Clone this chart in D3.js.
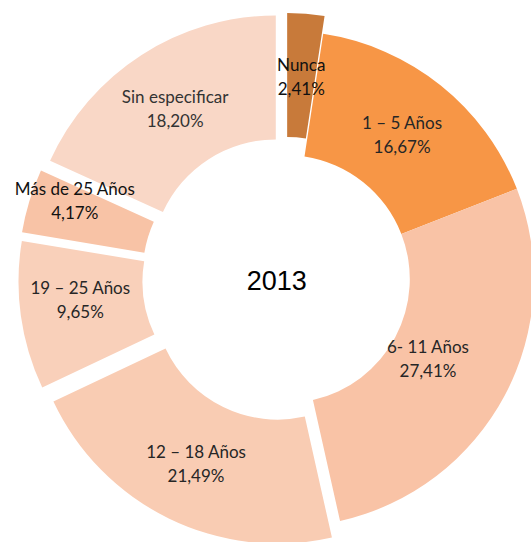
<!DOCTYPE html>
<html lang="es">
  <head>
    <meta charset="utf-8">
    <title>2013</title>
    <script src="https://cdnjs.cloudflare.com/ajax/libs/d3/7.8.5/d3.min.js"></script>
    <style>
      body { margin: 0; background: #fff; }
      .lbl { font-family: Lato, "Open Sans", sans-serif; font-size: 17px; }
      .title { font-family: "Liberation Sans", Arial, sans-serif; font-size: 27px; }
    </style>
  </head>
  <body>
    <div id="chartDiv"></div>
    <script>
      // data
      var categories = ["Nunca", "1 \u2013 5 Años", "6- 11 Años", "12 \u2013 18 Años",
                        "19 \u2013 25 Años", "Más de 25 Años", "Sin especificar"];
      var values = [2.41, 16.67, 27.41, 21.49, 9.65, 4.17, 18.20];
      var title = "2013";

      // styling
      var colors = ["#C87A3A", "#F79646", "#F9C3A6", "#F9CCB3", "#F9D0BA", "#F8C3A6", "#F9D7C6"];
      var explode = [18, 0, 0, 18.5, 19.5, 20, 18.5];     // px pulled out along the bisector
      var nudge = [[0, 0], [0, 0], [-22, -9], [0, 0], [-2, -9], [-14, -19], [0, 0]];
      var textFill = ["#111", "#262626", "#262626", "#262626", "#262626", "#111", "#333"];

      var chartWd = 531, chartHt = 542;
      var cx = 285.8, cy = 279;
      var outerR = 248, innerR = 124;

      var data = categories.map(function(c, i) {
        return {cat: c, value: values[i], i: i};
      });

      var pie = d3.pie()
                  .sort(null)
                  .value(function(d) { return d.value; })
                  .startAngle(0)
                  .endAngle(2 * Math.PI);

      var arc = d3.arc()
                  .innerRadius(innerR)
                  .outerRadius(outerR);

      var color = d3.scaleOrdinal()
                    .domain(categories)
                    .range(colors);

      var shift = function(d) {
        var a = (d.startAngle + d.endAngle) / 2;
        var e = explode[d.data.i];
        return [e * Math.sin(a), -e * Math.cos(a)];
      };

      var fmt = function(v) {
        return v.toFixed(2).replace(".", ",") + "%";
      };

      var svg = d3.select("#chartDiv")
                  .append("svg")
                  .attr("width", chartWd)
                  .attr("height", chartHt);

      var g = svg.append("g")
                 .attr("transform", "translate(" + cx + "," + cy + ")");

      var arcs = pie(data);

      g.selectAll("path.slice")
       .data(arcs)
       .enter()
       .append("path")
       .attr("class", "slice")
       .attr("d", arc)
       .attr("transform", function(d) {
         var s = shift(d);
         return "translate(" + s[0] + "," + s[1] + ")";
       })
       .attr("fill", function(d) { return color(d.data.cat); });

      var labels = g.selectAll("text.lbl")
                    .data(arcs)
                    .enter()
                    .append("text")
                    .attr("class", "lbl")
                    .attr("text-anchor", "middle")
                    .attr("fill", function(d) { return textFill[d.data.i]; })
                    .attr("transform", function(d) {
                      var c = arc.centroid(d), s = shift(d), n = nudge[d.data.i];
                      return "translate(" + (c[0] + s[0] + n[0]) + "," + (c[1] + s[1] + n[1]) + ")";
                    });

      labels.append("tspan")
            .attr("x", 0)
            .attr("y", -4.5)
            .text(function(d) { return d.data.cat; });

      labels.append("tspan")
            .attr("x", 0)
            .attr("y", 19.5)
            .text(function(d) { return fmt(d.data.value); });

      g.append("text")
       .attr("class", "title")
       .attr("text-anchor", "middle")
       .attr("x", -9)
       .attr("y", 11)
       .attr("fill", "#000")
       .text(title);
    </script>
  </body>
</html>
